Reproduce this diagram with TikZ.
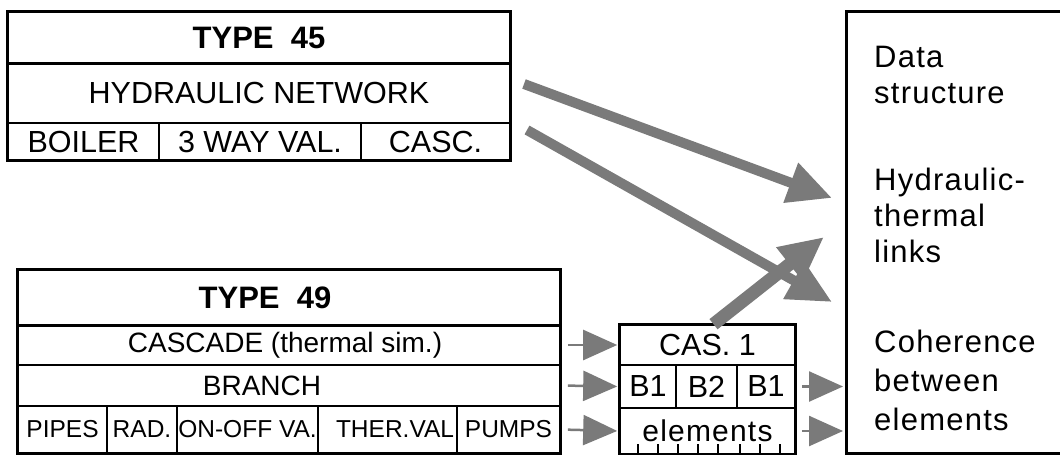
\documentclass[tikz,border=0pt]{standalone}
\usepackage{fontspec}
\setmainfont{Liberation Sans}
\newfontfamily\spacedfont[LetterSpace=4]{Liberation Sans}
\usetikzlibrary{arrows.meta}
\definecolor{hatch}{gray}{0.48}
\begin{document}
\begin{tikzpicture}[x=1pt,y=-1pt,
  cell/.style={draw, line width=1.6pt, inner sep=0pt, font=\fontsize{30.5}{32}\selectfont},
  smallcell/.style={cell, font=\fontsize{24.5}{26}\selectfont},
  titlecell/.style={cell, font=\bfseries\fontsize{31}{32}\selectfont},
  frame/.style={draw, line width=3pt},
  rtxt/.style={anchor=base west, inner sep=0pt, font=\spacedfont\fontsize{31}{31}\selectfont},
  bigarrow/.style={draw=hatch, line width=10pt, -{Triangle[length=44pt,width=40pt]}},
  smallarrow/.style={draw=hatch, line width=2.5pt, -{Triangle[length=34pt,width=30pt]}}
]
\useasboundingbox (0,0) rectangle (1060,455);
\clip (0,0) rectangle (1060,455);

% ---- TYPE 45 ----
\node[titlecell, minimum width=502, minimum height=51] (t45) at (259,37.5) {TYPE\ \ 45};
\node[cell, minimum width=502, minimum height=60] (hyd) at (259,93) {HYDRAULIC NETWORK};
\node[cell, minimum width=151, minimum height=37] (boiler) at (83.5,141.5) {BOILER};
\node[cell, minimum width=202, minimum height=37] (way3) at (260,141.5) {3 WAY VAL.};
\node[cell, minimum width=149, minimum height=37] (casc) at (435.5,141.5) {CASC.};
\draw[frame] (t45.north west) rectangle (casc.south east);
\draw[line width=3pt] (t45.south west) -- (t45.south east);

% ---- TYPE 49 ----
\node[titlecell, minimum width=542, minimum height=55] (t49) at (289,297.5) {\hspace{-48pt}TYPE\ \ 49};
\node[cell, font=\fontsize{28}{30}\selectfont, minimum width=542, minimum height=40] (cascade) at (289,345) {CASCADE (thermal sim.)\rule{8pt}{0pt}};
\node[cell, font=\fontsize{28}{30}\selectfont, minimum width=542, minimum height=41] (branch) at (289,385.5) {BRANCH\rule{54pt}{0pt}};
\node[smallcell, minimum width=89, minimum height=47] (pipes) at (62.5,429.5) {PIPES};
\node[smallcell, minimum width=70, minimum height=47] (rad) at (142,429.5) {RAD.};
\node[smallcell, minimum width=141, minimum height=47] (onoff) at (247.5,429.5) {ON-OFF VA.};
\node[smallcell, minimum width=139, minimum height=47] (therval) at (387.5,429.5) {\rule{15pt}{0pt}THER.VAL};
\node[smallcell, minimum width=103, minimum height=47] (pumps) at (508.5,429.5) {PUMPS};
\draw[frame] (t49.north west) rectangle (pumps.south east);
\draw[line width=3pt] (t49.south west) -- (t49.south east);

% ---- CAS. 1 ----
\node[cell, minimum width=175, minimum height=40] (cas1) at (707.5,345) {CAS. 1};
\node[cell, minimum width=56, minimum height=43] (b1a) at (648,386.5) {B1};
\node[cell, minimum width=61, minimum height=43] (b2) at (706.5,386.5) {B2};
\node[cell, minimum width=58, minimum height=43] (b1b) at (766,386.5) {B1};
\node[cell, minimum width=175, minimum height=46, font=\spacedfont\fontsize{30}{31}\selectfont] (elem) at (707.5,431) {elements};
\draw[frame] (cas1.north west) rectangle (elem.south east);
\foreach \x in {638,658,678,698,718,740,760,780}
  \draw[line width=1.5pt] (\x,454) -- (\x,444);

% ---- right box ----
\node[frame, minimum width=230, minimum height=442, anchor=north west, inner sep=0pt] (data) at (845,10) {};
\node[rtxt] (d1) at (874,67) {Data};
\node[rtxt] (d2) at (874,103) {structure};
\node[rtxt] (h1) at (874,190) {Hydraulic-};
\node[rtxt] (h2) at (874,226) {thermal};
\node[rtxt] (h3) at (874,262) {links};
\node[rtxt] (c1) at (874,352) {Coherence};
\node[rtxt] (c2) at (874,391) {between};
\node[rtxt] (c3) at (874,430) {elements};

% ---- big arrows ----
\coordinate (a1s) at (524,84);
\coordinate (a1e) at (832,198);
\coordinate (a2s) at (527,130);
\coordinate (a2e) at (832,302);
\coordinate (a3e) at (824,237);
\draw[bigarrow] (a1s) -- (a1e);
\draw[bigarrow] (a2s) -- (a2e);
\draw[bigarrow, line width=13pt] ([xshift=6pt]cas1.north) -- (a3e);

% ---- small arrows ----
\draw[smallarrow, shorten <=7pt, shorten >=2pt] (cascade.east) -- (cas1.west);
\draw[smallarrow, shorten <=7pt, shorten >=2pt] (branch.east) -- (b1a.west);
\draw[smallarrow, shorten <=7pt, shorten >=2pt] (pumps.east) -- (elem.west);
\draw[smallarrow, shorten <=6pt, shorten >=2pt] (b1b.east) -- (b1b.east -| data.west);
\draw[smallarrow, shorten <=6pt, shorten >=2pt] (elem.east) -- (elem.east -| data.west);
\end{tikzpicture}
\end{document}
